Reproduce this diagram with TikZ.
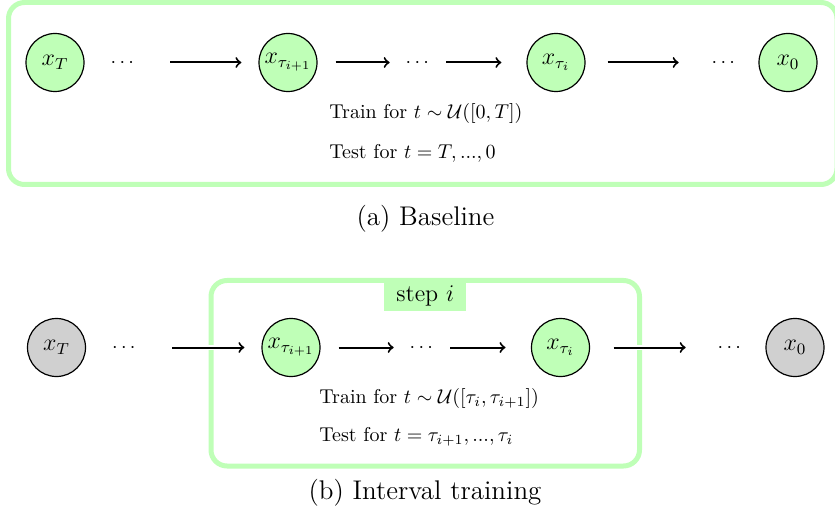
\documentclass[tikz,border=0pt]{standalone}
\usepackage{amsmath,amssymb}
\usepackage{tikz}
\usetikzlibrary{positioning}
\definecolor{softgreen}{RGB}{191,255,183}
\definecolor{softgray}{RGB}{208,208,208}

\tikzset{
  stage/.style={circle, draw, line width=0.6pt, fill=softgreen, minimum size=29pt, inner sep=0pt, font=\large},
  fixedstage/.style={stage, fill=softgray},
  ellip/.style={inner sep=0pt, text height=5pt, text depth=0pt},
  flow/.style={->, line width=1pt},
  gapflow/.style={flow, preaction={draw=white, line width=2.8pt, -}},
  blockframe/.style={draw=softgreen, line width=2.5pt, rounded corners=8pt},
  remark/.style={inner sep=0pt, anchor=base west},
  captext/.style={font=\fontsize{13.5pt}{16pt}\selectfont},
}

\begin{document}
\begin{tikzpicture}[x=0.5pt, y=0.5pt]
    \useasboundingbox (0,0) rectangle (835,520);

    % (a) baseline
    \draw[blockframe] (8.5,517.5) rectangle (837,335.5);
    \node[stage] (aT) at (55,457.5) {$x_T$};
    \node[ellip] (ad1) at (124,457.5) {$\cdots$};
    \node[stage] (ai1) at (288,457.5) {$x_{\tau_{i+1}}$};
    \node[ellip] (ad2) at (419,457.5) {$\cdots$};
    \node[stage] (ai) at (556,457.5) {$x_{\tau_i}$};
    \node[ellip] (ad3) at (725,457.5) {$\cdots$};
    \node[stage] (a0) at (788,457.5) {$x_0$};

    \draw[flow, shorten <=16.3pt, shorten >=8.5pt] (ad1) -- (ai1);
    \draw[flow, shorten <=9pt, shorten >=7.8pt] (ai1) -- (ad2);
    \draw[flow, shorten <=6.8pt, shorten >=12.5pt] (ad2) -- (ai);
    \draw[flow, shorten <=11pt, shorten >=16.3pt] (ai) -- (ad3);

    \node[remark] (atrain) at (329,401.7) {Train for $t \sim \mathcal{U}([0,T])$};
    \node[remark, below=20pt of atrain.base west, anchor=base west] (atest) {Test for $t = T, ..., 0$};
    \node[captext] (acap) at (425.5,301) {(a) Baseline};

    % (b) interval training
    \draw[blockframe] (211,239.5) rectangle (639.5,54);
    \node[fill=softgreen, font=\large, inner xsep=6pt, inner ysep=2.5pt, anchor=north] (steplabel) at (425.25,239.5) {step $i$};
    \node[fixedstage] (bT) at (56.5,172.5) {$x_T$};
    \node[ellip] (bd1) at (125.5,172.5) {$\cdots$};
    \node[stage] (bi1) at (291,172.5) {$x_{\tau_{i+1}}$};
    \node[ellip] (bd2) at (423,172.5) {$\cdots$};
    \node[stage] (bi) at (560.5,172.5) {$x_{\tau_i}$};
    \node[ellip] (bd3) at (731,172.5) {$\cdots$};
    \node[fixedstage] (b0) at (795,172.5) {$x_0$};

    \draw[gapflow, shorten <=16.6pt, shorten >=8.5pt] (bd1) -- (bi1);
    \draw[flow, shorten <=9pt, shorten >=7.8pt] (bi1) -- (bd2);
    \draw[flow, shorten <=6.8pt, shorten >=12.7pt] (bd2) -- (bi);
    \draw[gapflow, shorten <=11.7pt, shorten >=15.8pt] (bi) -- (bd3);

    \node[remark] (btrain) at (319,116.7) {Train for $t \sim \mathcal{U}([\tau_i, \tau_{i+1}])$};
    \node[remark, below=19.2pt of btrain.base west, anchor=base west] (btest) {Test for $t = \tau_{i+1}, ..., \tau_i$};
    \node[captext] (bcap) at (425,27) {(b) Interval training};
\end{tikzpicture}
\end{document}
